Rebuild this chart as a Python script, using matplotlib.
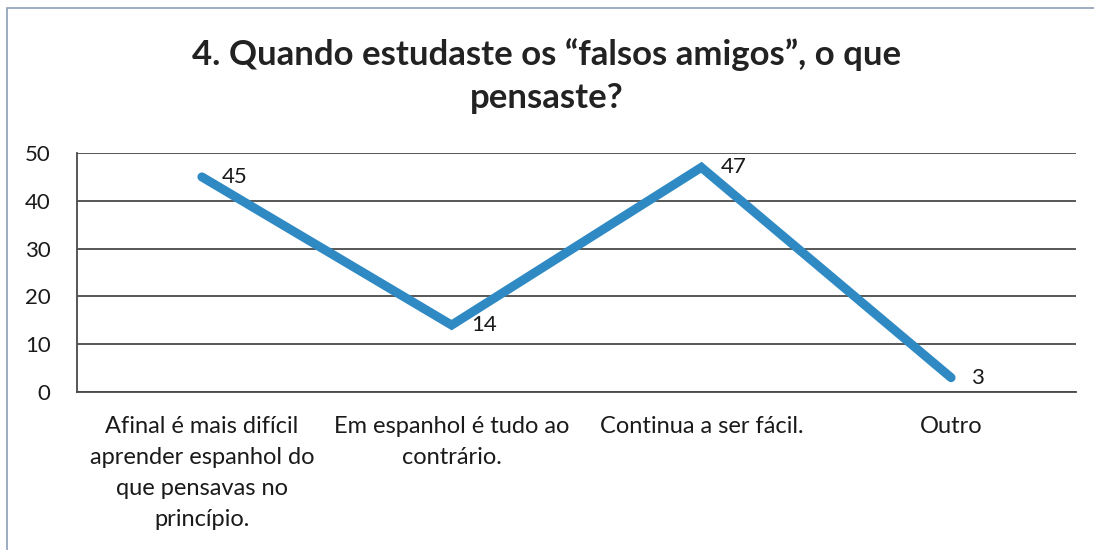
import matplotlib.pyplot as plt
from matplotlib.patches import Rectangle

# Chart data
categories = [
    "Afinal é mais difícil\naprender espanhol do\nque pensavas no\nprincípio.",
    "Em espanhol é tudo ao\ncontrário.",
    "Continua a ser fácil.",
    "Outro",
]
values = [45, 14, 47, 3]
yticks = [0, 10, 20, 30, 40, 50]
title = "4. Quando estudaste os “falsos amigos”, o que\npensaste?"

LINE_COLOR = "#2f8ac4"
GRID_COLOR = "#4a4a4a"
TEXT_COLOR = "#1a1a1a"

plt.rcParams['font.family'] = ['Lato', 'DejaVu Sans']

fig = plt.figure(figsize=(10.94, 5.5), dpi=100)
ax = fig.add_axes([0.0704, 0.2873, 0.9131, 0.4345])

# outer chart border
fig.patches.append(Rectangle((0.006, -0.02), 1.1, 1.006, transform=fig.transFigure,
                             fill=False, edgecolor="#8aa0b4", linewidth=1.2))

x = [i + 0.5 for i in range(len(values))]
ax.plot(x, values, color=LINE_COLOR, linewidth=6.5, solid_capstyle="round",
        solid_joinstyle="miter", zorder=3)

for xi, v in zip(x, values):
    ax.annotate(str(v), (xi, v), xytext=(14, 0), textcoords="offset points",
                ha="left", va="center", fontsize=16, color=TEXT_COLOR)

ax.set_xlim(0, len(values))
ax.set_ylim(0, 50)
ax.set_yticks(yticks)
ax.set_xticks(x)
ax.set_xticklabels(categories, fontsize=17, color=TEXT_COLOR, linespacing=1.6, va="top")
ax.tick_params(axis="y", length=0, pad=19, labelsize=16, labelcolor=TEXT_COLOR)
ax.tick_params(axis="x", length=0, pad=17)
for lab in ax.get_yticklabels():
    lab.set_horizontalalignment("right")

ax.grid(axis="y", color=GRID_COLOR, linewidth=1.3)
ax.set_axisbelow(True)
for side in ["top", "right"]:
    ax.spines[side].set_visible(False)
ax.spines["left"].set_color(GRID_COLOR)
ax.spines["bottom"].set_color(GRID_COLOR)
ax.spines["left"].set_linewidth(1.3)
ax.spines["bottom"].set_linewidth(1.3)

fig.text(0.5, 0.93, title, ha="center", va="top", fontsize=25, fontweight="bold",
         color="#222222", linespacing=1.4)

fig.savefig("out.png", dpi=100)
